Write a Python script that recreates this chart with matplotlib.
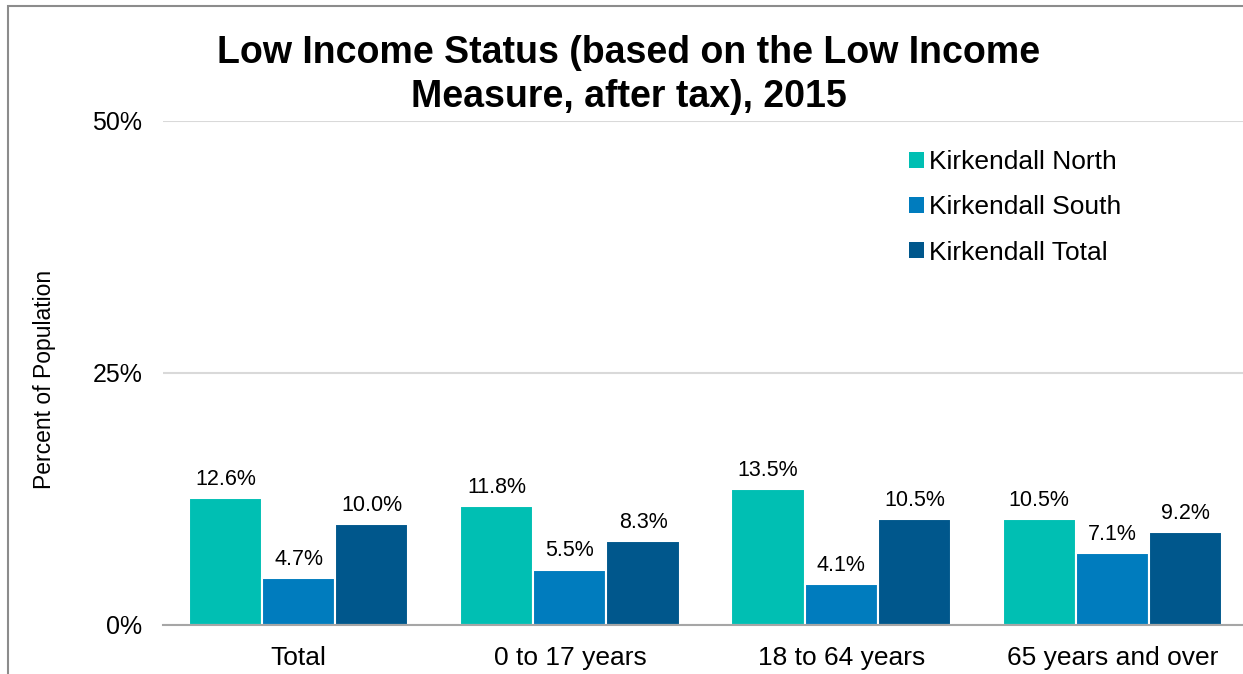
import matplotlib
matplotlib.use("Agg")
import matplotlib.pyplot as plt
import numpy as np
from matplotlib.patches import Patch, Rectangle

plt.rcParams['font.family'] = ['Liberation Sans', 'DejaVu Sans']

categories = ["Total", "0 to 17 years", "18 to 64 years", "65 years and over"]
series_names = ["Kirkendall North", "Kirkendall South", "Kirkendall Total"]
north = [12.6, 11.8, 13.5, 10.5]
south = [4.7, 5.5, 4.1, 7.1]
total = [10.0, 8.3, 10.5, 9.2]
colors = ["#00BFB3", "#007CBE", "#00578C"]
title = "Low Income Status (based on the Low Income\nMeasure, after tax), 2015"
ylabel = "Percent of Population"
yticks = [0, 25, 50]

W, H = 1243, 674
fig = plt.figure(figsize=(W / 100, H / 100), dpi=100)

left = 163 / W
right = 1248 / W
bottom = (H - 625) / H
top = (H - 121) / H
ax = fig.add_axes([left, bottom, right - left, top - bottom])

x = np.arange(len(categories))
bw = 0.27
for i, (vals, c, name) in enumerate(zip([north, south, total], colors, series_names)):
    pos = x + (i - 1) * bw
    ax.bar(pos, vals, width=bw, color=c, edgecolor='white', linewidth=1.5, label=name, zorder=3)
    for xp, v in zip(pos, vals):
        ax.text(xp, v + 0.8, f"{v:.1f}%", ha='center', va='bottom', fontsize=15.5, color='#000000')

ax.set_xlim(-0.5, len(categories) - 0.5)
ax.set_ylim(0, 50)
ax.set_yticks(yticks)
ax.set_yticklabels([f"{t}%" for t in yticks], fontsize=18)
ax.set_xticks(x)
ax.set_xticklabels(categories, fontsize=19)
ax.tick_params(axis='both', length=0)
ax.tick_params(axis='y', pad=15)
ax.tick_params(axis='x', pad=15)
ax.grid(axis='y', color='#D9D9D9', linewidth=1.5, zorder=0)
ax.set_axisbelow(True)
for s in ['top', 'right', 'left']:
    ax.spines[s].set_visible(False)
ax.spines['bottom'].set_color('#A6A6A6')
ax.spines['bottom'].set_linewidth(1.5)
ax.spines['bottom'].set_zorder(4)

fig.text(45 / W, 1 - 379 / H, ylabel, rotation=90, ha='center', va='center', fontsize=16.5)
fig.text(629 / W, 1 - 75 / H, title, ha='center', va='center', fontsize=27, fontweight='bold', linespacing=1.31)

handles = [Patch(facecolor=c, edgecolor='none') for c in colors]
fig.legend(handles, series_names, loc='upper left', bbox_to_anchor=(909 / W, 1 - 150 / H),
           frameon=False, fontsize=19, handlelength=0.55, handleheight=0.55,
           handletextpad=0.2, labelspacing=0.81, borderpad=0, borderaxespad=0)

fig.patches.append(Rectangle((8 / W, -0.1), 1.2, (H - 6) / H + 0.1, transform=fig.transFigure,
                             fill=False, edgecolor='#8C8C8C', linewidth=1.5, zorder=10))

fig.savefig("out.png", dpi=100)
